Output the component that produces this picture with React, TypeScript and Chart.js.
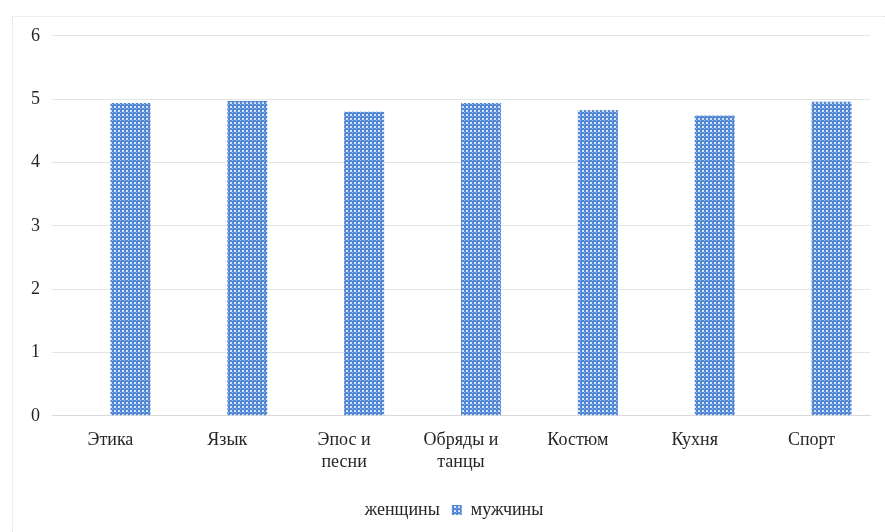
import React, { useEffect, useRef } from "react";
import { Chart, registerables } from "chart.js";

Chart.register(...registerables);

const categories: (string | string[])[] = ["Этика", "Язык", ["Эпос и", "песни"], ["Обряды и", "танцы"], "Костюм", "Кухня", "Спорт"];
const women: (number | null)[] = [null, null, null, null, null, null, null];
const men: number[] = [4.94, 4.97, 4.8, 4.94, 4.83, 4.74, 4.96];
const yTicks: number[] = [0, 1, 2, 3, 4, 5, 6];

function makePattern(): CanvasPattern | string {
  const c = document.createElement("canvas");
  c.width = 4;
  c.height = 4;
  const ctx = c.getContext("2d");
  if (!ctx) return "#4a7fd0";
  ctx.fillStyle = "#5087d4";
  ctx.fillRect(0, 0, 4, 4);
  ctx.fillStyle = "#d6e3f7";
  ctx.fillRect(1, 1, 2, 2);
  ctx.fillStyle = "#9ab8e8";
  ctx.fillRect(3, 3, 1, 1);
  const p = ctx.createPattern(c, "repeat");
  return p || "#4a7fd0";
}

export default function App() {
  const ref = useRef<HTMLCanvasElement | null>(null);
  useEffect(() => {
    if (!ref.current) return;
    const pattern = makePattern();
    const font = { family: "'Liberation Serif', 'DejaVu Serif', serif", size: 18, lineHeight: 1.2 };
    const chart = new Chart(ref.current, {
      type: "bar",
      data: {
        labels: categories,
        datasets: [
          { label: "женщины", data: women, backgroundColor: "rgba(0,0,0,0)", borderWidth: 0 },
          { label: "мужчины", data: men, backgroundColor: pattern as any, borderWidth: 0 },
        ],
      },
      options: {
        animation: false,
        responsive: false,
        maintainAspectRatio: false,
        layout: { padding: { left: 6, right: 15, top: 6, bottom: 2 } },
        datasets: { bar: { categoryPercentage: 0.684, barPercentage: 1 } },
        scales: {
          x: {
            grid: { display: false },
            border: { display: true, color: "#d9d9d9", width: 1 },
            ticks: { color: "#262626", font, maxRotation: 0, autoSkip: false, padding: 6 },
          },
          y: {
            min: 0,
            max: 6,
            afterBuildTicks: (axis: any) => {
              axis.ticks = yTicks.map((v) => ({ value: v }));
            },
            grid: { color: "#e4e4e4", drawTicks: false },
            border: { display: false },
            ticks: { color: "#262626", font, padding: 12 },
          },
        },
        plugins: {
          tooltip: { enabled: false },
          legend: {
            position: "bottom",
            title: { display: true, text: "", font: { size: 10, lineHeight: 1 }, padding: 0 },
            labels: {
              color: "#262626",
              font,
              boxWidth: 10,
              boxHeight: 10,
              padding: 12,
            },
          },
        },
      },
    });
    return () => chart.destroy();
  }, []);
  return (
    <div style={{ position: "fixed", left: 0, top: 0, width: 885, height: 532, background: "#fff" }}>
      <div
        style={{
          position: "absolute",
          left: 12,
          top: 16,
          width: 873,
          height: 516,
          borderLeft: "1px dotted #e0e0e0",
          borderTop: "1px dotted #e0e0e0",
          boxSizing: "border-box",
        }}
      />
      <canvas
        ref={ref}
        width={872}
        height={518}
        style={{ display: "block", position: "absolute", left: 13, top: 13 }}
      />
    </div>
  );
}
